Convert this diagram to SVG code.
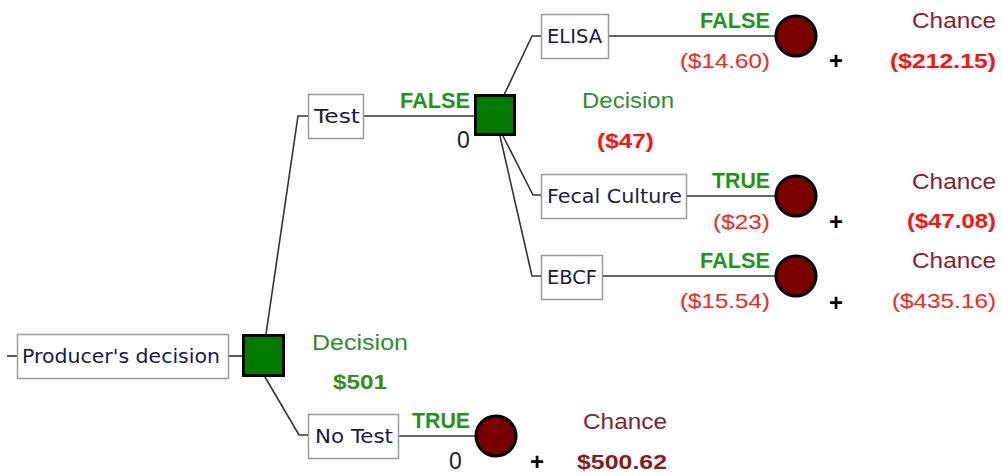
<svg xmlns="http://www.w3.org/2000/svg" width="1002" height="476" viewBox="0 0 1002 476">
  <style>
    .box { fill: #ffffff; stroke: #9a9a9a; stroke-width: 1.5; }
    .dec { fill: #007a00; stroke: #000000; stroke-width: 3; }
    .chn { fill: #7a0000; stroke: #000000; stroke-width: 3; }
    .ln { fill: none; stroke: #333333; stroke-width: 1.6; }
    .lbl { font-family: "DejaVu Sans", "Liberation Sans", sans-serif; font-size: 19px; fill: #1a1a40; }
    .t { font-family: "Liberation Sans", Arial, sans-serif; }
    .bool { font-size: 22px; font-weight: bold; fill: #1e961e; text-anchor: end; }
    .zero { font-size: 23px; fill: #1a1a40; }
    .val { font-size: 21px; fill: #ff2020; text-anchor: end; }
    .valb { font-size: 21px; font-weight: bold; fill: #ff1010; text-anchor: end; }
    .kind { font-size: 22px; fill: #862030; text-anchor: end; }
    .dkind { font-size: 22px; fill: #2e8f2e; }
    .dval { font-size: 21px; font-weight: bold; fill: #2f8f1f; }
    .plus { font-size: 24px; font-weight: bold; fill: #000000; }
  </style>

  <!-- branch lines -->
  <g id="connectors">
    <path class="ln" d="M7,356 H17"/>
    <path class="ln" d="M229,356 H243"/>
    <path class="ln" d="M266,334 L298,116 H308"/>
    <path class="ln" d="M265,377 L299,435 H308"/>
    <path class="ln" d="M364,116 H475"/>
    <path class="ln" d="M504,95 L532,36 H541"/>
    <path class="ln" d="M503,136 L533,195 H541"/>
    <path class="ln" d="M500,136 L532,276 H541"/>
    <path class="ln" d="M609,36 H776"/>
    <path class="ln" d="M687,196 H776"/>
    <path class="ln" d="M603,276 H776"/>
    <path class="ln" d="M399,436 H476"/>
  </g>

  <g id="producers-decision">
    <rect class="box" x="17.5" y="334.5" width="211" height="44"/>
    <text class="lbl" x="22" y="363" textLength="198" lengthAdjust="spacingAndGlyphs">Producer's decision</text>
  </g>

  <g id="decision-root">
    <rect class="dec" x="243.5" y="335.5" width="40" height="40"/>
    <text class="t dkind" x="312" y="350" textLength="96" lengthAdjust="spacingAndGlyphs">Decision</text>
    <text class="t dval" x="333" y="389" textLength="54" lengthAdjust="spacingAndGlyphs">$501</text>
  </g>

  <g id="test">
    <rect class="box" x="308.5" y="94.5" width="55" height="44"/>
    <text class="lbl" x="314" y="123" textLength="46" lengthAdjust="spacingAndGlyphs">Test</text>
    <text class="t bool" x="470" y="108" textLength="70" lengthAdjust="spacingAndGlyphs">FALSE</text>
  </g>

  <g id="decision-test">
    <rect class="dec" x="475.5" y="95.5" width="39" height="39"/>
    <text class="t zero" x="457" y="148">0</text>
    <text class="t dkind" x="582" y="108" textLength="92" lengthAdjust="spacingAndGlyphs">Decision</text>
    <text class="t valb" x="654" y="148" textLength="57" lengthAdjust="spacingAndGlyphs">($47)</text>
  </g>

  <g id="elisa">
    <rect class="box" x="541.5" y="14.5" width="67" height="44"/>
    <text class="lbl" x="547" y="43" textLength="55" lengthAdjust="spacingAndGlyphs">ELISA</text>
    <text class="t bool" x="770" y="28" textLength="70" lengthAdjust="spacingAndGlyphs">FALSE</text>
    <text class="t val" x="770" y="68" textLength="90" lengthAdjust="spacingAndGlyphs">($14.60)</text>
  </g>

  <g id="chance-elisa">
    <circle class="chn" cx="796" cy="36" r="20"/>
    <text class="t plus" x="829" y="69">+</text>
    <text class="t kind" x="996" y="28" textLength="84" lengthAdjust="spacingAndGlyphs">Chance</text>
    <text class="t valb" x="996" y="68" textLength="106" lengthAdjust="spacingAndGlyphs">($212.15)</text>
  </g>

  <g id="fecal-culture">
    <rect class="box" x="541.5" y="174.5" width="145" height="44"/>
    <text class="lbl" x="547" y="203" textLength="135" lengthAdjust="spacingAndGlyphs">Fecal Culture</text>
    <text class="t bool" x="770" y="188" textLength="58" lengthAdjust="spacingAndGlyphs">TRUE</text>
    <text class="t val" x="770" y="229" textLength="57" lengthAdjust="spacingAndGlyphs">($23)</text>
  </g>

  <g id="chance-fecal-culture">
    <circle class="chn" cx="796" cy="196" r="20"/>
    <text class="t plus" x="829" y="230">+</text>
    <text class="t kind" x="996" y="189" textLength="84" lengthAdjust="spacingAndGlyphs">Chance</text>
    <text class="t valb" x="996" y="228" textLength="89" lengthAdjust="spacingAndGlyphs">($47.08)</text>
  </g>

  <g id="ebcf">
    <rect class="box" x="541.5" y="255.5" width="61" height="44"/>
    <text class="lbl" x="547" y="284" textLength="50" lengthAdjust="spacingAndGlyphs">EBCF</text>
    <text class="t bool" x="770" y="268" textLength="70" lengthAdjust="spacingAndGlyphs">FALSE</text>
    <text class="t val" x="770" y="308" textLength="90" lengthAdjust="spacingAndGlyphs">($15.54)</text>
  </g>

  <g id="chance-ebcf">
    <circle class="chn" cx="796" cy="276" r="20"/>
    <text class="t plus" x="829" y="311">+</text>
    <text class="t kind" x="996" y="268" textLength="84" lengthAdjust="spacingAndGlyphs">Chance</text>
    <text class="t val" x="996" y="308" textLength="104" lengthAdjust="spacingAndGlyphs">($435.16)</text>
  </g>

  <g id="no-test">
    <rect class="box" x="308.5" y="414.5" width="90" height="44"/>
    <text class="lbl" x="315" y="443" textLength="78" lengthAdjust="spacingAndGlyphs">No Test</text>
    <text class="t bool" x="470" y="428" textLength="58" lengthAdjust="spacingAndGlyphs">TRUE</text>
    <text class="t zero" x="449" y="469">0</text>
  </g>

  <g id="chance-no-test">
    <circle class="chn" cx="496" cy="436" r="20"/>
    <text class="t plus" x="530" y="470">+</text>
    <text class="t kind" x="667" y="429" textLength="84" lengthAdjust="spacingAndGlyphs">Chance</text>
    <text class="t valb" x="667" y="469" textLength="90" lengthAdjust="spacingAndGlyphs" style="fill:#8b1a1a">$500.62</text>
  </g>
</svg>
